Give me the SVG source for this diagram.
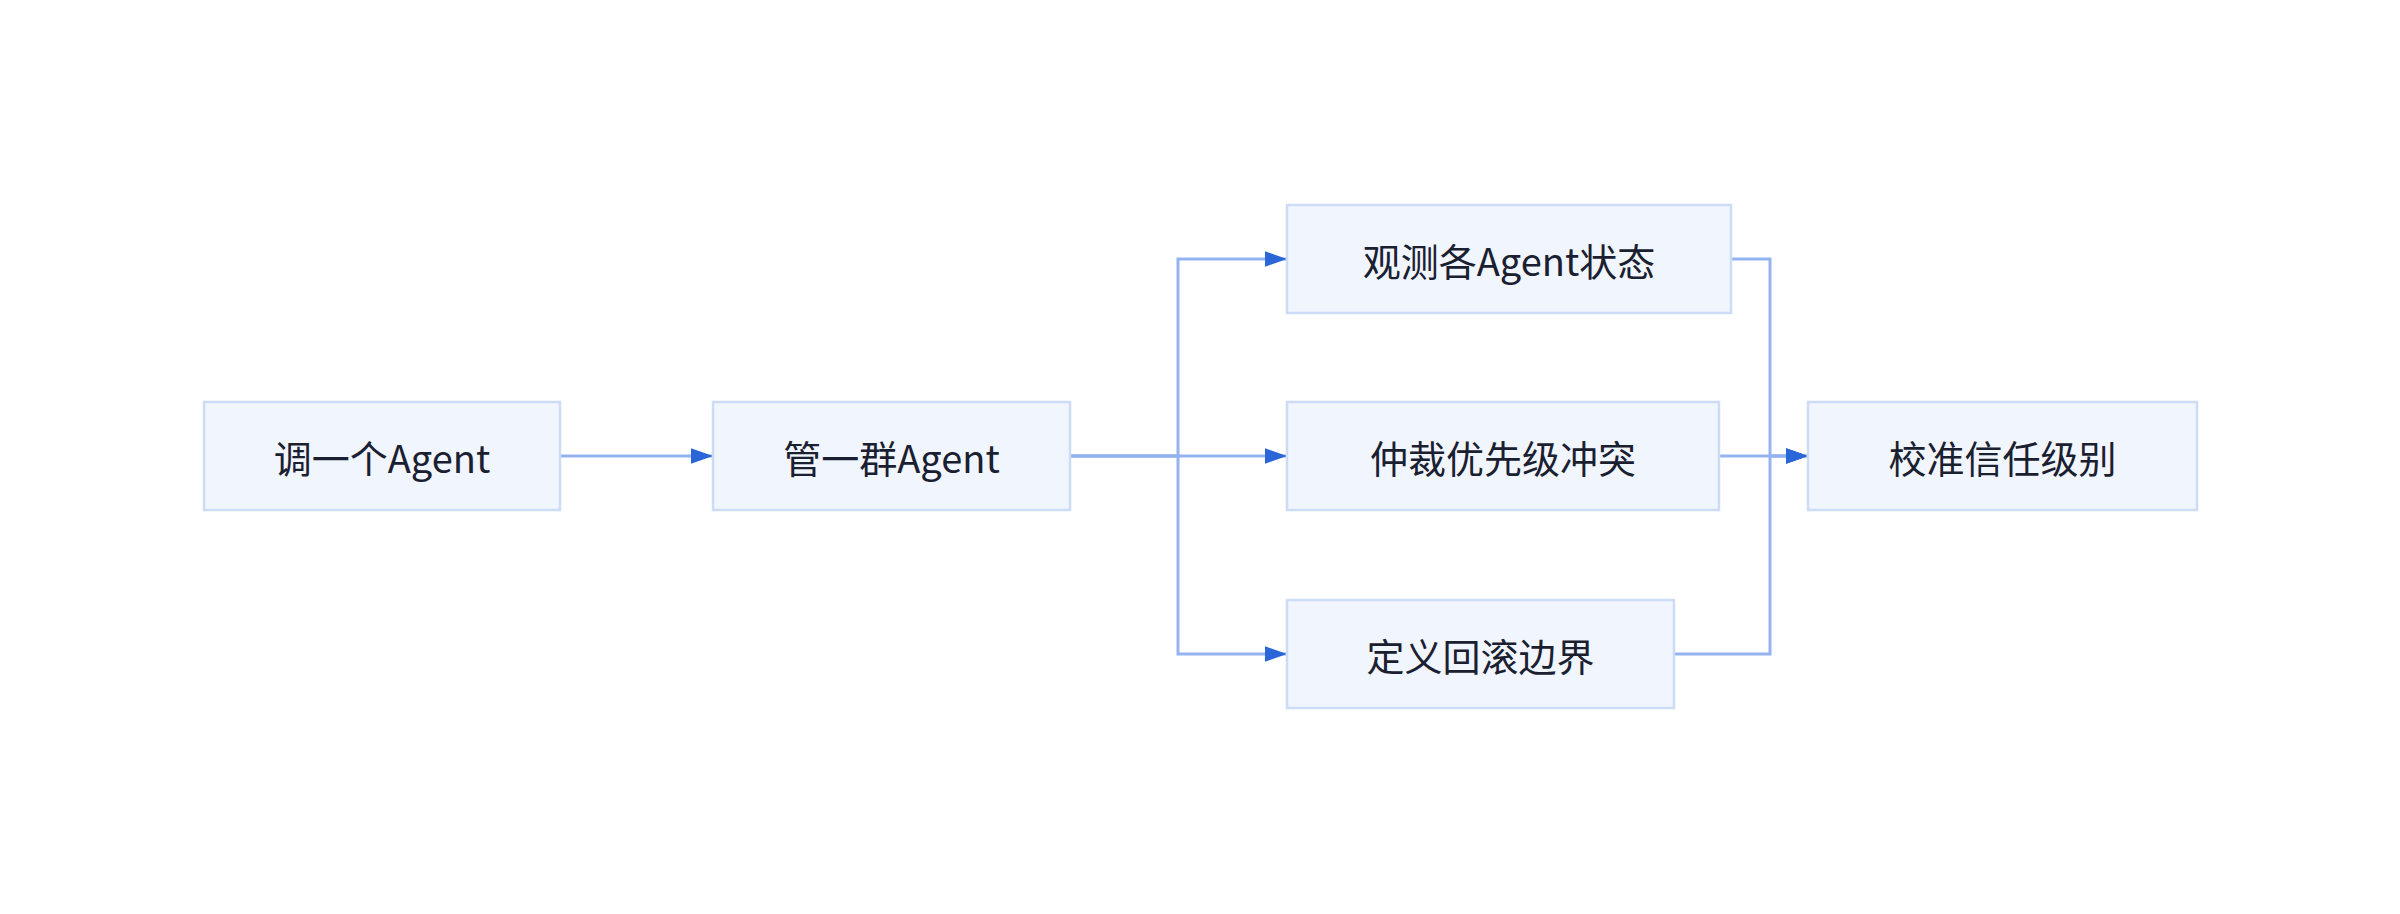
<svg xmlns="http://www.w3.org/2000/svg" width="2400" height="914" viewBox="0 0 2400 914">
<style>
.node rect{fill:#f0f5fe;stroke:#cddcf5;stroke-width:2.5}
.node text{font-family:"Noto Sans CJK SC","Noto Sans",sans-serif;font-size:38px;fill:#1a2030;text-anchor:middle;dominant-baseline:central}
.edge{fill:none;stroke:#93b4f0;stroke-width:3;marker-end:url(#arrow)}
</style>
<defs>
<marker id="arrow" markerUnits="userSpaceOnUse" markerWidth="22" markerHeight="16" viewBox="0 0 20 14" refX="20" refY="7" orient="auto">
<path d="M0 0 L20 7 L0 14 Z" fill="#2b66d9"/>
</marker>
</defs>
<rect width="2400" height="914" fill="#ffffff"/>
<g id="connectors">
<path class="edge" d="M560 456 H713"/>
<path class="edge" d="M1070 456 H1178 V259 H1287"/>
<path class="edge" d="M1070 456 H1287"/>
<path class="edge" d="M1070 456 H1178 V654 H1287"/>
<path class="edge" d="M1731 259 H1770 V456 H1808"/>
<path class="edge" d="M1719 456 H1808"/>
<path class="edge" d="M1674 654 H1770 V456 H1808"/>
</g>
<g id="n1" class="node"><rect x="204" y="402" width="356" height="108"/><text x="382" y="456">调一个Agent</text></g>
<g id="n2" class="node"><rect x="713" y="402" width="357" height="108"/><text x="891.5" y="456">管一群Agent</text></g>
<g id="n3" class="node"><rect x="1287" y="205" width="444" height="108"/><text x="1509" y="259">观测各Agent状态</text></g>
<g id="n4" class="node"><rect x="1287" y="402" width="432" height="108"/><text x="1503" y="456">仲裁优先级冲突</text></g>
<g id="n5" class="node"><rect x="1287" y="600" width="387" height="108"/><text x="1480.5" y="654">定义回滚边界</text></g>
<g id="n6" class="node"><rect x="1808" y="402" width="389" height="108"/><text x="2002.5" y="456">校准信任级别</text></g>
</svg>
